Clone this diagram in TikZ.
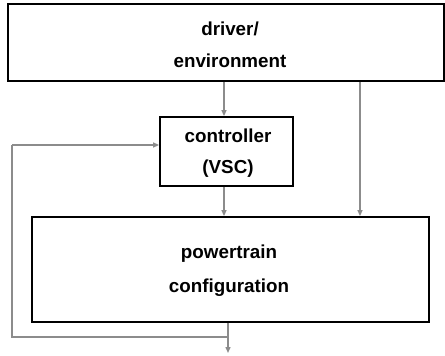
\documentclass[tikz,border=0pt]{standalone}
\usepackage{fontspec}
\setmainfont{Liberation Sans}
\usetikzlibrary{arrows.meta}
\definecolor{lgray}{HTML}{8C8C8C}
\tikzset{
  box/.style={draw=black, line width=1.8pt, fill=white, inner sep=0pt},
  lbl/.style={align=center, font=\fontsize{18.8}{#1}\selectfont\bfseries, inner sep=0pt},
  arr/.style={draw=lgray, line width=1.4pt, -{Triangle[length=6pt,width=5pt]}},
  ln/.style={draw=lgray, line width=1.4pt}
}
\begin{document}
\begin{tikzpicture}[x=1pt,y=-1pt]
\useasboundingbox (0,0) rectangle (445,356);
\node[box, minimum width=436pt, minimum height=77pt] (top) at (226,42.5) {};
\node[lbl=32] (toptxt) at (230,44.5) {driver/\\environment};
\node[box, minimum width=133pt, minimum height=69pt] (ctrl) at (226.5,151.5) {};
\node[lbl=31] (ctrltxt) at (228,153) {controller\\(VSC)};
\node[box, minimum width=397pt, minimum height=105pt] (pt) at (230.5,269.5) {};
\node[lbl=34] (pttxt) at (229,270.5) {powertrain\\configuration};
\coordinate (out) at (228,353);
\coordinate (br) at (228,337);
\coordinate (fbl) at (12,337);
\coordinate (fbt) at (12,145);
\draw[arr] (224,0 |- top.south) -- (224,0 |- ctrl.north);
\draw[arr] (224,0 |- ctrl.south) -- (224,0 |- pt.north);
\draw[arr] (360,0 |- top.south) -- (360,0 |- pt.north);
\draw[arr] (228,0 |- pt.south) -- (out);
\draw[ln] (br) -- (fbl) -- (fbt);
\draw[arr] (fbt) -- (ctrl.west |- fbt);
\end{tikzpicture}
\end{document}
